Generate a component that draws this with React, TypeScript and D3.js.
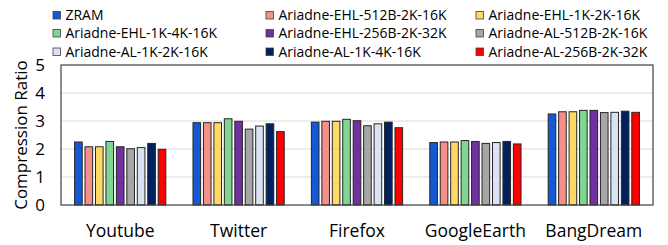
import React, { useRef, useEffect } from 'react';
import * as d3 from 'd3';

const categories = ['Youtube', 'Twitter', 'Firefox', 'GoogleEarth', 'BangDream'];
const seriesNames = [
  'ZRAM',
  'Ariadne-EHL-512B-2K-16K',
  'Ariadne-EHL-1K-2K-16K',
  'Ariadne-EHL-1K-4K-16K',
  'Ariadne-EHL-256B-2K-32K',
  'Ariadne-AL-512B-2K-16K',
  'Ariadne-AL-1K-2K-16K',
  'Ariadne-AL-1K-4K-16K',
  'Ariadne-AL-256B-2K-32K'
];
const seriesColors = ['#1558d6', '#f4908a', '#ffd966', '#7fd690', '#7030a0', '#a6a6a6', '#dae3f3', '#002060', '#ff0000'];
// values per category, one per series
const youtube = [2.25, 2.08, 2.08, 2.27, 2.08, 2.01, 2.05, 2.2, 1.99];
const twitter = [2.94, 2.94, 2.94, 3.08, 2.99, 2.71, 2.82, 2.9, 2.62];
const firefox = [2.96, 2.99, 2.99, 3.06, 3.01, 2.83, 2.9, 2.96, 2.76];
const googleEarth = [2.23, 2.25, 2.25, 2.3, 2.27, 2.2, 2.23, 2.27, 2.18];
const bangDream = [3.25, 3.33, 3.33, 3.38, 3.38, 3.3, 3.31, 3.35, 3.31];
const yTicks = [0, 1, 2, 3, 4, 5];

export default function App(): JSX.Element {
  const svgRef = useRef<SVGSVGElement>(null);
  useEffect(() => {
    const el = svgRef.current;
    if (el == null) return;
    const svg = d3.select(el);
    svg.selectAll('*').remove();
    const font = 'Open Sans, Noto Sans, sans-serif';
    const plot = { left: 61, right: 653, top: 65, bottom: 205 };
    const values = [youtube, twitter, firefox, googleEarth, bangDream];

    const x = d3.scaleBand().domain(categories).range([plot.left, plot.right]);
    const inner = d3
      .scaleBand<number>()
      .domain(d3.range(seriesNames.length))
      .range([0, x.bandwidth()])
      .paddingOuter(1.3)
      .paddingInner(0.27);
    const y = d3.scaleLinear().domain([0, 5]).range([plot.bottom, plot.top]);

    // 网格线
    svg
      .selectAll()
      .data(yTicks.slice(1, -1))
      .join('line')
      .attr('x1', plot.left)
      .attr('x2', plot.right)
      .attr('y1', (d) => y(d))
      .attr('y2', (d) => y(d))
      .attr('stroke', '#d9d9d9')
      .attr('stroke-width', 1);

    // 柱子
    values.forEach((vals, ci) => {
      svg
        .append('g')
        .selectAll()
        .data(vals)
        .join('rect')
        .attr('x', (_d, i) => (x(categories[ci]) as number) + (inner(i) as number))
        .attr('y', (d) => y(d))
        .attr('width', inner.bandwidth())
        .attr('height', (d) => y(0) - y(d))
        .attr('fill', (_d, i) => seriesColors[i])
        .attr('stroke', '#262626')
        .attr('stroke-width', 1);
    });

    // 外框
    svg
      .append('rect')
      .attr('x', plot.left)
      .attr('y', plot.top)
      .attr('width', plot.right - plot.left)
      .attr('height', plot.bottom - plot.top)
      .attr('fill', 'none')
      .attr('stroke', '#404040')
      .attr('stroke-width', 1.2);

    // y 轴刻度
    svg
      .selectAll()
      .data(yTicks)
      .join('text')
      .attr('x', 45)
      .attr('y', (d) => y(d) + 6)
      .attr('text-anchor', 'end')
      .style('font-family', font)
      .style('font-size', '17px')
      .text((d) => d);

    svg
      .append('text')
      .attr('transform', `translate(27, ${(plot.top + plot.bottom) / 2}) rotate(-90)`)
      .attr('text-anchor', 'middle')
      .style('font-family', font)
      .style('font-size', '17px')
      .text('Compression Ratio');

    // x 轴标签
    svg
      .selectAll()
      .data(categories)
      .join('text')
      .attr('x', (d) => (x(d) as number) + x.bandwidth() / 2)
      .attr('y', 237)
      .attr('text-anchor', 'middle')
      .style('font-family', font)
      .style('font-size', '17.5px')
      .text((d) => d);

    // 图例 (没有 Calibri，用 textLength 稍微压缩)
    const legendX = [53, 266, 476];
    const legendY = [15, 33, 51.5];
    const lg = svg
      .selectAll()
      .data(seriesNames)
      .join('g')
      .attr('transform', (_d, i) => `translate(${legendX[i % 3]}, ${legendY[Math.floor(i / 3)]})`);
    lg.append('rect')
      .attr('x', 0)
      .attr('y', -3.5)
      .attr('width', 7.5)
      .attr('height', 7.5)
      .attr('fill', (_d, i) => seriesColors[i])
      .attr('stroke', '#404040')
      .attr('stroke-width', 0.8);
    const legendText = lg
      .append('text')
      .attr('x', 12.5)
      .attr('y', 5)
      .style('font-family', font)
      .style('font-size', '14.5px')
      .text((d) => d);
    const ref = legendText.filter((d) => d === 'Ariadne-EHL-512B-2K-16K').node() as SVGTextElement;
    const factor = Math.min(1, 168 / ref.getComputedTextLength());
    legendText.each(function () {
      const t = this as SVGTextElement;
      const w = t.getComputedTextLength();
      d3.select(t).attr('textLength', w * factor).attr('lengthAdjust', 'spacingAndGlyphs');
    });
  }, []);
  return (
    <div style={{ position: 'absolute', left: 0, top: 0 }}>
      <svg ref={svgRef} width={668} height={245} style={{ display: 'block', background: '#fff' }} />
    </div>
  );
}
